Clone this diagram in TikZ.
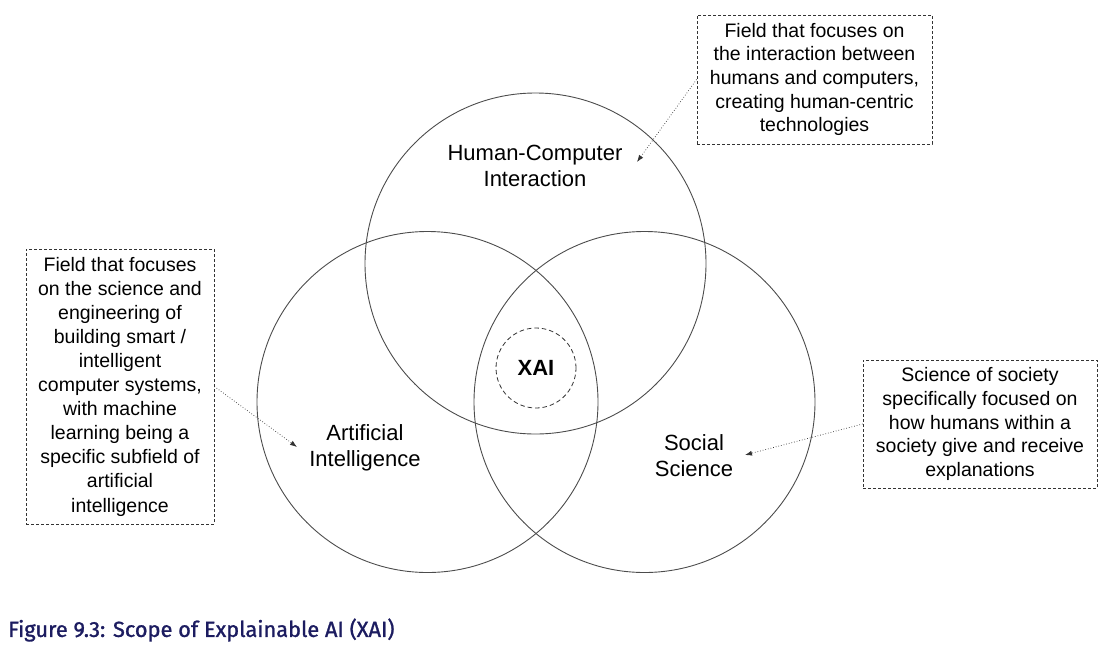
\documentclass[tikz,border=0pt]{standalone}
\usepackage{fontspec}
\setmainfont{Liberation Sans}
\newfontfamily\capfont[FakeBold=1.2]{Fira Sans}
\usetikzlibrary{arrows.meta}
\definecolor{capblue}{RGB}{28,28,96}
\begin{document}
\begin{tikzpicture}[x=1pt,y=-1pt,
  venn/.style={circle,draw=black!70,line width=0.9pt,inner sep=0pt,minimum size=341pt},
  note/.style={draw=black!80,line width=0.8pt,dash pattern=on 3pt off 2pt,align=center,inner sep=0pt,
    font=\fontsize{19.5}{23.6}\selectfont},
  lbl/.style={align=center,font=\fontsize{22}{26}\selectfont},
  arr/.style={draw=black!80,line width=0.7pt,dotted,-{Latex[length=7pt,width=5pt]}}]
\useasboundingbox (0,0) rectangle (1112,651);
% circles
\node[venn] (hci) at (535.5,263.5) {};
\node[venn] (ai) at (427.5,402) {};
\node[venn] (ss) at (644.5,402) {};
\node[circle,draw=black!80,line width=0.8pt,dash pattern=on 4.5pt off 3pt,minimum size=80pt,inner sep=0pt] (xaic) at (536,368) {};
\node[font=\fontsize{22}{26}\selectfont\bfseries] (xai) at (536,368) {XAI};
% labels
\node[lbl] (hcil) at (535,166) {Human-Computer\\Interaction};
\node[lbl] (ail) at (365,448) {Artificial\\Intelligence};
\node[lbl] (ssl) at (694,456) {Social\\Science};
% notes
\node[note,minimum width=235pt,minimum height=129pt] (hcibox) at (814.5,79.5)
  {Field that focuses on\\the interaction between\\humans and computers,\\creating human-centric\\technologies};
\node[note,minimum width=188pt,minimum height=275pt,font=\fontsize{19.5}{24.1}\selectfont] (aibox) at (120,386.5)
  {Field that focuses\\on the science and\\engineering of\\building smart /\\intelligent\\computer systems,\\with machine\\learning being a\\specific subfield of\\artificial\\intelligence};
\node[note,minimum width=234pt,minimum height=128pt] (ssbox) at (980,424)
  {Science of society\\specifically focused on\\how humans within a\\society give and receive\\explanations};
% arrow tips
\coordinate (hcitip) at (637,162);
\coordinate (aitip) at (297,447);
\coordinate (sstip) at (745,455);
\draw[arr] (hcibox.west) -- (hcitip);
\draw[arr] (aibox.east) -- (aitip);
\draw[arr] (ssbox.west) -- (sstip);
% caption
\node[anchor=west,inner sep=0pt,text=capblue,font=\capfont\fontsize{21.8}{26}\selectfont] (cap) at (8,630) {Figure 9.3: Scope of Explainable AI (XAI)};
\end{tikzpicture}
\end{document}
